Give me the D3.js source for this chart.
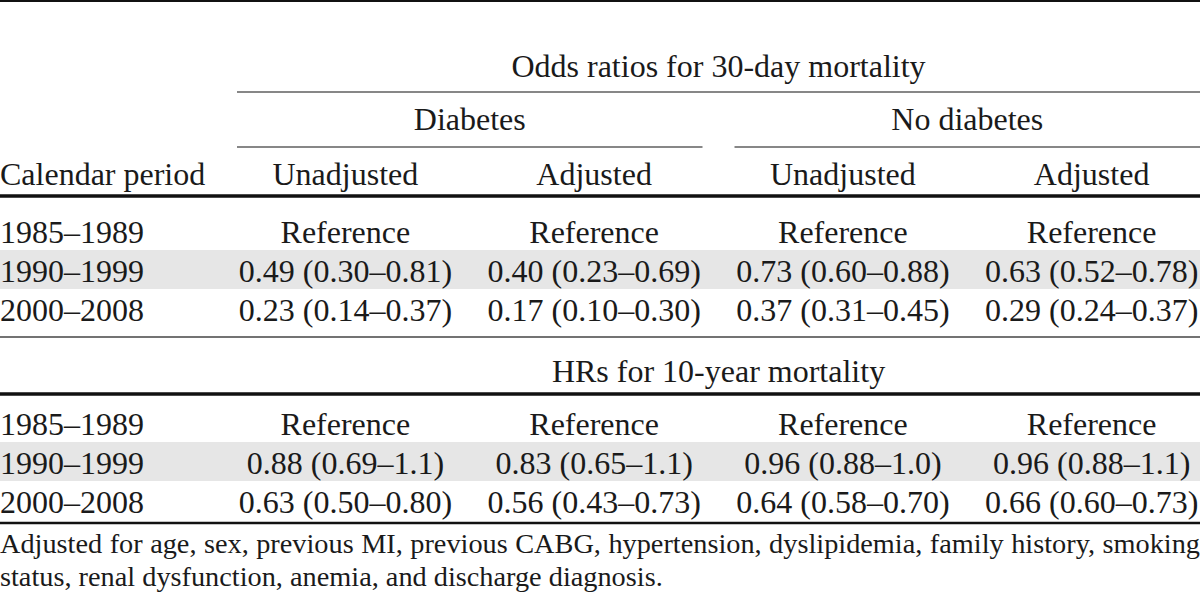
<!DOCTYPE html>
<html>
<head>
<meta charset="utf-8">
<script src="https://cdn.jsdelivr.net/npm/d3@7"></script>
<style>
  html, body { margin: 0; padding: 0; background: #fff; }
  svg { display: block; }
  text { font-family: "Liberation Serif", "Times New Roman", serif; fill: #1a1a1a; }
</style>
</head>
<body>
<svg id="chart" width="1200" height="594"></svg>
<script>
// ---- data ----
const periods = ["1985–1989", "1990–1999", "2000–2008"];
const groups = ["Diabetes", "No diabetes"];
const models = ["Unadjusted", "Adjusted", "Unadjusted", "Adjusted"];
const rowHeader = "Calendar period";
const title30 = "Odds ratios for 30-day mortality";
const title10 = "HRs for 10-year mortality";
const or30Day = [
  ["Reference", "Reference", "Reference", "Reference"],
  ["0.49 (0.30–0.81)", "0.40 (0.23–0.69)", "0.73 (0.60–0.88)", "0.63 (0.52–0.78)"],
  ["0.23 (0.14–0.37)", "0.17 (0.10–0.30)", "0.37 (0.31–0.45)", "0.29 (0.24–0.37)"]
];
const hr10Year = [
  ["Reference", "Reference", "Reference", "Reference"],
  ["0.88 (0.69–1.1)", "0.83 (0.65–1.1)", "0.96 (0.88–1.0)", "0.96 (0.88–1.1)"],
  ["0.63 (0.50–0.80)", "0.56 (0.43–0.73)", "0.64 (0.58–0.70)", "0.66 (0.60–0.73)"]
];
const footnote = "Adjusted for age, sex, previous MI, previous CABG, hypertension, dyslipidemia, family history, smoking status, renal dysfunction, anemia, and discharge diagnosis.";
const footnoteBreak = "smoking"; // last word of first line

// ---- layout ----
const W = 1200;
const svg = d3.select("#chart");
const FS = 32;
const gap = 16;

const x = d3.scaleBand().domain(d3.range(4)).range([221, 1216]).paddingInner(0);
const cx = i => x(i) + x.bandwidth() / 2;
const gx = d3.scaleBand().domain(groups).range([221, 1216]);

const y1 = d3.scaleBand().domain(periods).range([211, 328]);
const y2 = d3.scaleBand().domain(periods).range([403, 520]);

function hline(y0, x0, x1, w, color) {
  svg.append("line").attr("x1", x0).attr("x2", x1).attr("y1", y0).attr("y2", y0)
    .attr("stroke", color || "#111").attr("stroke-width", w);
}
function txt(s, xx, yy, anchor, size) {
  return svg.append("text").attr("x", xx).attr("y", yy)
    .attr("text-anchor", anchor || "middle").attr("font-size", size || FS).text(s);
}

// shaded middle rows
[y1, y2].forEach(y => {
  svg.append("rect").attr("x", 0).attr("width", W)
    .attr("y", y(periods[1])).attr("height", y.bandwidth()).attr("fill", "#e6e6e6");
});

// rules
hline(1, 0, W, 2);
hline(92, x(0) + gap, W, 1.2);
groups.forEach(g => hline(147, gx(g) + gap, gx(g) + gx.bandwidth() - gap, 1.2));
hline(196, 0, W, 3.5);
hline(337, 0, W, 1.6, "#444");
hline(394, 0, W, 3.5);
hline(523, 0, W, 2.5);

// headers
txt(title30, (x(0) + gap + W) / 2, 77);
groups.forEach(g => txt(g, gx(g) + gx.bandwidth() / 2, 130));
txt(rowHeader, 0, 185, "start");
models.forEach((m, i) => txt(m, cx(i), 185));
txt(title10, (x(0) + gap + W) / 2, 382);

// body rows
function block(y, data, off) {
  periods.forEach((p, r) => {
    const by = y(p) + off;
    txt(p, 0, by, "start");
    data[r].forEach((v, c) => txt(v, cx(c), by));
  });
}
block(y1, or30Day, 32);
block(y2, hr10Year, 32);

// footnote (first line justified)
const words = footnote.split(" ");
const bi = words.indexOf(footnoteBreak) + 1;
const line1 = words.slice(0, bi), line2 = words.slice(bi);
const FN = 28.3;
const t1 = svg.append("text").attr("y", 553).attr("font-size", FN);
const spans = line1.map(w => t1.append("tspan").text(w));
const widths = spans.map(s => s.node().getComputedTextLength());
const totalW = d3.sum(widths);
const sp = (W - totalW) / (line1.length - 1);
let cur = 0;
spans.forEach((s, i) => { s.attr("x", cur); cur += widths[i] + sp; });
txt(line2.join(" "), 0, 586, "start", FN);
</script>
</body>
</html>
